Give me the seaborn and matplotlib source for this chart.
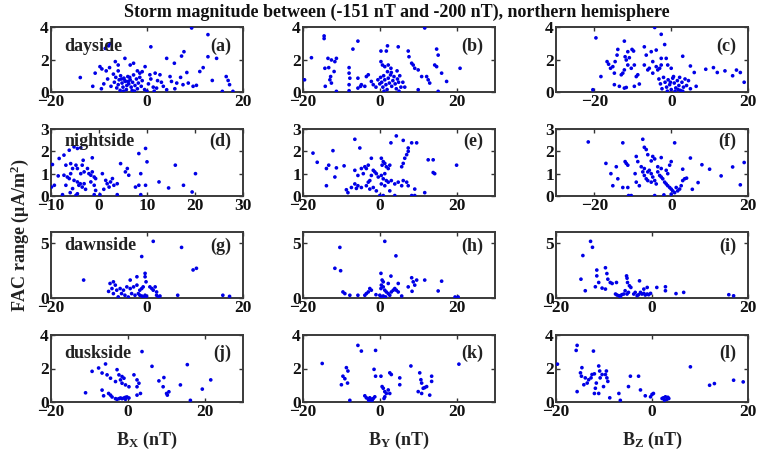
import matplotlib
matplotlib.use("Agg")
import matplotlib.pyplot as plt
import seaborn as sns

# ---------------- data (FAC range vs IMF components) ----------------
a_x = [9.3, -8.7, -8.0, -7.7, 0.8, 12.7, 14.5, 4.1, 5.7, 7.2, 7.7, 11.7, 12.7, 11.0, 16.5, 16.9, 17.2, 13.6, 15.7, 17.9,
       -13.9, -11.3, -10.8, -9.8, -9.4, -4.6, -6.6, -6.0, -3.5, -2.8, -0.4, -1.5, 0.6, 1.7, 2.7, 4.8, 5.1, 6.2, 7.5, 8.6,
       9.6, 10.3, 2.0, 3.4, 4.1, -7.0, -6.5, -6.8, -6.0, -5.8, -5.5, -5.2, -5.0, -4.8, -4.5, -4.3, -4.0, -3.8, -3.5, -3.3,
       -3.0, -2.8, -2.5, -2.2, -2.0, -1.8, -1.5, -1.2, -1.0, -0.5, -4.6, -5.3, -3.9, -4.2, -3.6, -6.3, -5.6, -4.9, -3.1, -2.6,
       -7.5, -8.2, -8.5, -7.8, -1.0, 0.3, 0.8, 1.3, 2.2, 0.0, 1.5, 3.0, 5.8, 7.0, 8.3, -9.0, -9.5, -2.0, -6.0]
a_y = [3.94, 2.68, 2.84, 2.98, 2.78, 3.53, 2.07, 2.07, 1.77, 2.21, 2.48, 1.50, 2.17, 1.26, 0.95, 0.71, 0.45, 0.71, 0.04, 0.04,
       0.89, 0.35, 1.16, 1.56, 1.42, 2.07, 1.87, 1.66, 1.66, 1.77, 1.56, 1.16, 1.06, 1.16, 1.06, 0.95, 0.65, 0.55, 0.45, 0.55,
       0.35, 0.41, 0.24, 0.35, 0.14, 1.10, 0.90, 0.60, 0.45, 0.75, 1.00, 0.55, 0.30, 0.85, 0.65, 0.15, 0.95, 0.50, 0.75, 0.30,
       0.60, 1.05, 0.40, 0.80, 0.20, 0.55, 0.90, 0.35, 0.70, 0.15, 0.70, 0.80, 0.65, 0.40, 0.90, 0.25, 0.10, 0.05, 0.10, 0.05,
       0.35, 0.80, 1.30, 1.50, 1.25, 0.50, 0.80, 0.30, 0.70, 0.05, 0.05, 0.60, 0.20, 0.90, 1.20, 0.50, 0.20, 1.30, 1.30]

b_x = [-14.5, -14.5, -17.8, -19.6, -5.7, -7.0, -13.5, -12.6, -11.3, -11.7, -14.3, -13.3, -11.9, -12.8, -13.0, -12.6, -14.2,
       -11.3, -8.0, -8.0, -7.8, -8.0, -8.0, -5.7, -4.8, -3.9, -3.5, -3.0, -2.2, -1.7, -5.7, -5.0, 0.3, 1.7, 2.0, 4.8, 0.3, 0.7,
       1.3, 2.2, 2.9, 7.4, 7.6, 8.3, 8.7, 9.1, 10.0, 10.9, 12.2, 12.6, 13.0, 14.8, 15.2, 14.3, 14.8, 16.1, 17.4, 10.0, 15.2,
       20.9, 11.7, 0.2, 0.5, 0.8, 1.0, 1.3, 1.6, 1.9, 2.2, 2.5, 2.8, 3.1, 3.4, 3.7, 4.0, 4.3, 4.6, 4.9, 5.2, 5.5, 0.0, 1.1,
       3.0, 4.5, 5.0, 6.0, 6.5, -0.5, -1.0, 2.0]
b_y = [3.45, 3.29, 2.11, 0.75, 3.13, 2.64, 2.07, 1.97, 2.07, 1.87, 1.46, 1.50, 1.26, 0.95, 0.75, 0.55, 0.35, 0.04, 1.50, 1.16,
       0.85, 0.45, 0.08, 0.85, 0.45, 0.35, 0.95, 1.06, 0.65, 0.45, 0.24, 0.35, 2.52, 2.52, 2.84, 2.78, 1.87, 1.66, 1.56, 1.66,
       1.46, 2.52, 2.17, 1.77, 1.66, 1.46, 1.36, 0.95, 0.95, 0.75, 0.55, 2.64, 2.27, 1.66, 1.56, 1.16, 0.65, 0.14, 0.04, 1.46,
       3.94, 0.90, 0.60, 0.30, 1.00, 0.75, 0.45, 0.15, 0.85, 0.55, 1.05, 0.35, 0.70, 0.95, 0.50, 0.20, 0.80, 0.60, 1.00, 0.30,
       0.50, 0.05, 1.20, 1.30, 0.05, 0.60, 0.30, 0.75, 0.30, 1.25]

c_x = [-19.6, -20.4, -18.3, -16.7, -16.3, -15.8, -15.2, -14.8, -14.6, -13.9, -14.1, -12.2, -12.0, -11.7, -11.3, -10.9, -10.2,
       -9.8, -13.0, -12.6, -12.2, -11.3, -10.4, -9.6, -9.1, -8.7, -14.8, -13.5, -12.2, -11.7, -9.6, -8.3, -7.0, -6.5, -5.2,
       -4.8, -3.9, -2.6, -7.0, -6.1, -5.7, -4.8, -3.9, -3.5, -3.0, -2.6, -4.3, -2.6, -1.7, -1.3, -0.9, 0.0, -3.2, -2.8, -2.4,
       -2.0, -1.6, -1.2, -0.8, -0.4, 0.0, 0.4, 0.8, 1.2, 1.6, 2.0, 2.4, 2.8, 3.2, 3.6, -1.0, 1.0, 3.0, 0.6, 2.2, -0.2, 1.8,
       4.0, 3.0, 5.0, 6.0, 9.0, 11.0, 12.0, 14.0, 16.0, 17.0, 18.0, 19.0, 5.0, 4.5, 6.5]
c_y = [3.33, 0.14, 0.95, 1.87, 1.71, 1.46, 1.56, 1.16, 1.87, 2.62, 2.27, 3.13, 2.17, 1.97, 2.48, 2.11, 2.62, 2.52, 1.06, 1.16,
       1.36, 1.66, 1.46, 1.66, 0.95, 1.06, 0.45, 0.35, 0.24, 0.28, 0.35, 0.49, 2.78, 2.27, 2.48, 1.87, 2.58, 2.07, 1.66, 1.36,
       1.46, 1.16, 1.56, 1.36, 1.46, 1.66, 3.97, 3.55, 2.92, 2.07, 1.66, 1.46, 0.80, 0.50, 0.20, 0.90, 0.60, 0.30, 0.75, 0.45,
       0.15, 0.85, 0.55, 0.25, 0.70, 0.40, 0.10, 0.60, 0.30, 0.80, 0.05, 0.05, 0.05, 0.95, 0.90, 0.60, 0.15, 0.40, 2.20, 1.60,
       1.20, 1.40, 1.50, 1.20, 1.30, 1.00, 1.35, 1.20, 0.60, 0.20, 0.70, 0.35]

d_x = [-9.7, -8.3, -7.3, -6.2, -5.2, -4.5, -3.8, -1.4, -6.9, -5.9, -5.5, -4.8, -4.5, -3.8, -3.5, -3.1, -7.3, -6.6, -6.2, -5.9,
       -5.2, -4.5, -4.2, -3.9, -3.5, -3.1, -6.9, -5.5, -4.5, -2.4, -2.1, -1.7, -1.4, -1.0, -0.7, -1.7, -1.0, -0.7, 0.7, 1.4,
       1.7, 2.1, 2.4, 2.8, 3.1, 3.8, 4.5, 5.9, 6.2, 5.5, 8.3, 9.7, 10.0, 8.7, 7.6, 8.3, 9.7, 12.5, 14.5, 15.9, 17.6, 20.1,
       19.4, -7.6, -4.8, -1.0, 0.2, 3.8, 8.7, -9.3, -9.9, -8.5, -2.8, -6.0, 1.0, -3.3]
d_y = [1.41, 1.68, 1.83, 2.05, 2.20, 2.13, 2.16, 1.71, 1.38, 1.45, 1.23, 1.38, 1.23, 1.00, 1.38, 1.08, 0.93, 0.85, 0.78, 1.00,
       0.70, 0.63, 0.48, 0.55, 0.40, 0.55, 0.48, 0.33, 0.10, 1.23, 1.00, 0.93, 1.08, 0.85, 0.78, 0.63, 0.48, 0.25, 1.00, 0.70,
       0.55, 0.40, 0.63, 0.78, 0.48, 0.55, 1.45, 1.23, 0.93, 1.08, 1.90, 2.13, 1.53, 1.00, 0.40, 0.48, 0.48, 0.63, 0.36, 1.38,
       0.48, 1.00, 0.18, 0.06, 0.03, 0.06, 0.06, 0.06, 0.06, 0.48, 0.40, 0.90, 0.30, 0.15, 0.30, 1.60]

e_x = [-17.4, -16.3, -13.9, -13.3, -11.3, -11.7, -13.9, -12.2, -9.3, -6.5, -5.2, -6.5, -5.7, -4.8, -4.3, -3.9, -3.5, -3.0,
       -8.7, -8.3, -7.4, -6.5, -6.1, -5.7, -4.8, -3.5, -3.0, -2.6, -1.7, -2.6, -2.2, -2.2, -1.7, -1.3, -0.9, -0.4, 0.4, 1.3,
       0.9, 1.7, 0.4, 1.3, 2.2, 3.0, 3.9, 4.8, 5.7, 6.1, 7.0, 7.4, 0.4, 0.9, 1.3, 0.6, 1.7, 2.2, 2.6, 2.9, 4.3, 6.1, 7.4,
       8.3, 9.6, 5.7, 6.1, 6.5, 7.0, 7.4, 0.0, 0.9, 3.9, 8.3, 9.1, 11.7, 9.1, 12.6, 13.9, 13.9, 14.3, 20.0, 2.6, -0.9]
e_y = [1.92, 1.51, 1.23, 1.38, 1.26, 0.85, 0.46, 2.03, 1.35, 2.54, 2.15, 1.15, 0.92, 1.23, 1.00, 1.31, 1.23, 1.38, 0.28, 0.15,
       0.38, 0.54, 0.34, 0.46, 0.38, 0.46, 0.62, 0.31, 0.38, 0.69, 0.92, 1.69, 1.15, 1.08, 1.00, 0.85, 0.92, 1.00, 0.77, 0.69,
       0.54, 0.46, 0.62, 0.69, 0.54, 0.62, 0.46, 0.69, 0.62, 0.46, 1.69, 1.54, 1.46, 1.38, 1.31, 1.23, 1.38, 2.38, 2.69, 2.49,
       2.15, 2.38, 2.38, 1.31, 1.46, 1.69, 1.85, 2.00, 0.02, 0.02, 0.02, 0.02, 0.02, 0.15, 0.31, 1.62, 1.62, 1.05, 1.00, 1.38,
       0.23, 0.23]

f_x = [-21.6, -17.0, -15.7, -15.2, -14.3, -13.9, -12.6, -12.0, -11.7, -11.3, -12.6, -11.3, -10.4, -11.1, -9.1, -9.4, -9.1,
       -8.3, -7.4, -7.0, -6.5, -6.1, -5.2, -4.8, -4.3, -3.5, -2.6, -2.6, -8.7, -7.8, -7.4, -7.0, -6.5, -6.1, -5.2, -4.8, -4.3,
       -3.9, -7.0, -6.1, -5.7, -5.2, -4.3, -1.9, 0.0, -3.5, -3.0, -2.6, -2.2, -1.7, -1.3, -0.9, -0.4, 0.0, 0.4, 0.9, 1.3, 1.7,
       2.2, 2.6, 3.0, 3.5, 0.9, 0.0, -0.4, -0.9, -1.3, 3.0, 4.0, 5.0, 7.0, 8.0, 10.0, 13.0, 16.0, 18.0, 19.0, 5.5]
f_y = [2.42, 1.46, 1.00, 0.46, 1.31, 0.77, 2.38, 1.54, 1.46, 1.38, 0.38, 0.38, 0.02, 0.02, 1.77, 1.00, 0.62, 0.46, 2.54, 2.18,
       2.08, 1.85, 1.57, 1.77, 1.66, 1.31, 1.72, 1.23, 1.54, 1.31, 1.08, 0.92, 0.77, 0.69, 0.62, 0.85, 0.69, 0.54, 1.23, 1.08,
       1.15, 1.00, 0.02, 0.05, 0.08, 1.08, 0.92, 0.85, 0.77, 0.62, 0.54, 0.46, 0.38, 0.31, 0.23, 0.15, 0.38, 0.23, 0.31, 0.46,
       0.69, 0.77, 2.38, 1.54, 1.38, 1.00, 1.15, 1.20, 0.80, 1.70, 0.60, 1.40, 1.20, 0.90, 1.30, 0.50, 1.50, 0.30]

g_x = [1.3, 7.2, -1.1, 9.6, 10.3, -13.2, -7.7, -7.0, -6.6, -7.3, -6.3, -7.0, -3.5, -2.1, -0.4, -0.4, -0.2, -5.6, -4.9, -4.2,
       -3.5, -2.8, -2.1, -1.5, -1.1, -0.8, -5.3, -4.6, -3.9, -3.2, -2.5, -1.8, -1.5, -1.1, -0.8, -0.4, -0.1, 0.6, 1.0, 1.3,
       1.7, 2.0, 2.0, 2.4, 2.7, 6.4, 15.8, 17.2, -6.0, -8.0]
g_y = [5.15, 4.60, 3.77, 2.55, 2.70, 1.63, 1.32, 1.47, 1.17, 0.86, 0.71, 0.40, 1.63, 1.93, 2.24, 1.93, 1.47, 0.86, 0.71, 1.01,
       0.86, 1.01, 1.17, 0.71, 0.86, 1.01, 0.40, 0.25, 0.09, 0.40, 0.25, 0.40, 0.25, 0.18, 0.09, 0.25, 0.15, 1.01, 0.86, 0.71,
       1.01, 0.55, 0.25, 0.09, 0.18, 0.25, 0.25, 0.15, 0.10, 0.60]

h_x = [-10.4, 1.3, 4.2, -11.7, -10.2, -9.6, -9.1, -7.8, -5.7, -3.9, -3.5, -3.0, -2.6, -2.2, 0.3, 0.6, 0.9, 0.4, 0.9, 0.3,
       1.3, 1.7, 2.2, 2.6, 3.0, 3.5, 3.9, 4.3, 4.8, 2.9, 2.2, 4.8, 8.3, 8.7, 9.1, 9.6, 7.4, 8.4, 11.7, 15.2, 16.1, 0.0, 0.4,
       0.9, 5.7, 19.6, 20.4, 20.0, -1.0, 1.5]
h_y = [4.60, 5.15, 3.83, 2.70, 2.48, 0.55, 0.40, 0.25, 0.25, 0.25, 0.40, 0.55, 0.86, 0.71, 2.24, 1.63, 1.47, 1.17, 1.01, 0.86,
       0.71, 0.55, 0.40, 0.25, 0.55, 0.71, 0.86, 0.71, 0.55, 1.99, 1.32, 1.32, 1.84, 1.47, 1.17, 1.63, 1.01, 0.61, 1.63, 0.64,
       1.53, 0.25, 0.09, 0.18, 0.18, 0.09, 0.09, 0.02, 0.30, 0.10]

i_x = [-12.8, -12.4, -14.4, -14.8, -13.9, -11.5, -11.1, -11.8, -11.5, -9.7, -9.4, -9.2, -8.7, -10.4, -9.7, -8.3, -7.4, -5.3,
       -5.2, -5.1, -4.7, -4.4, -5.2, -4.9, -5.6, -7.6, -7.3, -6.9, -6.6, -6.3, -5.9, -3.8, -3.5, -3.1, -2.8, -2.4, -2.1, -1.7,
       -1.4, -1.0, -0.7, -0.3, -2.6, -1.7, -1.0, 1.0, 2.8, 2.8, 6.6, 16.0, 17.0, 5.0]
i_y = [5.15, 4.61, 3.86, 1.71, 0.66, 2.54, 1.41, 1.02, 2.01, 2.75, 2.22, 1.71, 1.41, 0.90, 0.81, 1.32, 1.41, 2.01, 1.80, 1.41,
       1.11, 0.96, 0.36, 0.51, 0.66, 0.36, 0.27, 0.21, 0.12, 0.30, 0.36, 0.36, 0.51, 0.21, 0.30, 0.51, 0.36, 0.42, 0.27, 0.36,
       0.30, 0.42, 1.56, 0.81, 0.96, 0.96, 1.02, 0.66, 0.51, 0.30, 0.20, 0.40]

j_x = [3.7, 6.3, 15.5, 21.6, 19.4, 13.7, 8.1, 9.4, 9.2, 10.3, 10.7, 10.1, 16.3, -11.0, -9.3, -7.6, -6.7, -5.8, -5.4, -4.5,
       -6.7, -6.3, -5.0, -4.5, -4.1, -2.8, -2.3, -1.9, -1.5, -1.0, -3.2, -1.5, -0.6, 0.3, 1.6, 2.4, 2.9, 2.4, 3.3, 2.4, -3.2,
       -2.8, -2.3, -1.9, -1.5, -1.0, -0.6, -0.2, 0.3, -0.6]
j_y = [3.01, 2.13, 2.23, 1.32, 0.77, 1.02, 1.26, 1.46, 0.91, 0.41, 0.61, 0.51, 0.10, 0.55, 1.83, 2.03, 1.73, 2.27, 1.62, 1.42,
       0.71, 0.37, 0.51, 0.41, 0.30, 1.93, 1.62, 1.32, 1.52, 1.42, 1.22, 1.12, 1.02, 0.91, 1.62, 1.32, 1.12, 0.91, 0.51, 0.41,
       0.20, 0.16, 0.20, 0.24, 0.20, 0.24, 0.28, 0.30, 0.24, 0.16]

k_x = [-15.0, -5.7, -4.8, -1.1, -8.7, -8.3, -9.6, -9.1, -10.0, -8.4, -7.8, -3.9, -3.5, -3.0, -2.6, -2.2, -1.7, -1.3, -1.5,
       -1.1, 0.3, 0.6, 0.9, 1.3, 1.7, 2.2, 2.6, 3.0, 2.6, 1.3, 1.1, 5.2, 5.2, 8.1, 10.4, 10.7, 10.9, 11.3, 10.0, 10.9, 11.7,
       12.2, 13.0, 13.5, 13.5, 20.6, -2.8, -2.0]
k_y = [2.30, 3.38, 3.04, 3.08, 2.05, 1.85, 1.54, 1.39, 1.03, 1.13, 0.10, 0.37, 0.25, 0.16, 0.25, 0.16, 0.21, 0.31, 1.95, 1.54,
       1.54, 0.92, 0.82, 0.62, 0.51, 0.72, 0.51, 1.64, 1.74, 0.31, 0.21, 1.44, 1.03, 2.15, 1.74, 1.33, 1.13, 0.82, 0.62, 0.51,
       0.86, 0.92, 0.41, 1.54, 1.23, 2.26, 0.05, 0.10]

l_x = [-19.7, -15.6, -15.8, -12.2, -15.6, -14.6, -14.9, -14.7, -13.9, -13.5, -14.2, -13.2, -12.7, -12.5, -12.0, -11.8, -11.6,
       -11.1, -10.9, -10.8, -10.4, -10.1, -9.7, -9.5, -9.4, -9.2, -12.0, -11.1, -8.8, -6.9, -6.6, -4.9, -4.5, -2.8, -2.4, -1.4,
       -0.3, 0.0, 0.3, 2.1, 2.4, 2.8, 3.1, 3.5, 2.6, 3.3, 8.0, 12.0, 13.0, 17.0, 19.0]
l_y = [2.26, 3.38, 3.08, 3.04, 0.62, 2.05, 1.74, 1.54, 1.44, 1.13, 1.03, 1.33, 1.44, 1.64, 1.68, 0.82, 1.13, 2.15, 1.85, 1.44,
       1.64, 0.92, 1.64, 1.85, 1.44, 1.23, 0.51, 0.51, 0.25, 0.51, 0.10, 0.92, 1.54, 1.54, 0.72, 0.37, 0.31, 0.45, 0.51, 0.21,
       0.25, 0.31, 0.16, 0.21, 0.10, 0.28, 2.10, 1.00, 1.10, 1.30, 1.20]

panel_letters = ["(a)", "(b)", "(c)", "(d)", "(e)", "(f)", "(g)", "(h)", "(i)", "(j)", "(k)", "(l)"]
side_names = ["dayside", "nightside", "dawnside", "duskside"]
x_labels = [r"B$_{\rm X}$ (nT)", r"B$_{\rm Y}$ (nT)", r"B$_{\rm Z}$ (nT)"]
title = "Storm magnitude between (-151 nT and -200 nT), northern hemisphere"
y_label = r"FAC range ($\mu$A/m$^{\rm 2}$)"

xs = [a_x, b_x, c_x, d_x, e_x, f_x, g_x, h_x, i_x, j_x, k_x, l_x]
ys = [a_y, b_y, c_y, d_y, e_y, f_y, g_y, h_y, i_y, j_y, k_y, l_y]

# axis settings per panel
xlims = [(-20, 20), (-20, 30), (-30, 20),
         (-10, 30), (-20, 30), (-30, 20),
         (-20, 20), (-20, 30), (-20, 20),
         (-20, 30), (-20, 30), (-20, 20)]
xtick_sets = [[-20, 0, 20], [-20, 0, 20], [-20, 0, 20],
              [-10, 0, 10, 20, 30], [-20, 0, 20], [-20, 0, 20],
              [-20, 0, 20], [-20, 0, 20], [-20, 0, 20],
              [-20, 0, 20], [-20, 0, 20], [-20, 0, 20]]
ylims = [(0, 4), (0, 3), (0, 6), (0, 4)]
ytick_sets = [[0, 2, 4], [0, 1, 2, 3], [0, 5], [0, 2, 4]]

# ---------------- style ----------------
sns.set_style("white")
plt.rcParams["font.family"] = ["Liberation Serif", "DejaVu Serif"]
plt.rcParams["font.weight"] = "bold"
plt.rcParams["mathtext.fontset"] = "custom"
plt.rcParams["mathtext.rm"] = "Liberation Serif:bold"
plt.rcParams["mathtext.it"] = "Liberation Serif:bold"
plt.rcParams["mathtext.bf"] = "Liberation Serif:bold"

W, H = 757, 457
fig = plt.figure(figsize=(W / 100, H / 100), dpi=100)

col_left = [51, 303, 556]
col_w = 192
rows = [(27, 92), (129, 196), (232, 298), (335, 402)]
label_y = [0.70, 0.81, 0.79, 0.73]

for idx in range(12):
    r, c = divmod(idx, 3)
    top, bot = rows[r]
    ax = fig.add_axes([col_left[c] / W, 1 - bot / H, col_w / W, (bot - top) / H])
    sns.scatterplot(x=xs[idx], y=ys[idx], ax=ax, color="#0000e6", s=7,
                    linewidth=0, edgecolor="none", legend=False, zorder=3)
    ax.set_xlim(*xlims[idx])
    ax.set_ylim(*ylims[r])
    ax.set_xticks(xtick_sets[idx])
    ax.set_yticks(ytick_sets[r])
    ax.tick_params(direction="in", bottom=True, left=True, top=True, right=True,
                   length=3, width=1, labelsize=12.5, pad=1.5, colors="#333333")
    for lab in ax.get_xticklabels() + ax.get_yticklabels():
        lab.set_fontweight("bold")
        lab.set_color("#111111")
    for sp in ax.spines.values():
        sp.set_visible(True)
        sp.set_linewidth(1.4)
        sp.set_color("#3a3a3a")
    ax.set_xlabel("")
    ax.set_ylabel("")
    ax.text(0.94, label_y[r], panel_letters[idx], transform=ax.transAxes,
            ha="right", va="center", fontsize=13, fontweight="bold", color="#222222")
    if c == 0:
        ax.text(0.07, label_y[r], side_names[r], transform=ax.transAxes,
                ha="left", va="center", fontsize=13, fontweight="bold", color="#222222")
    if r == 3:
        ax.set_xlabel(x_labels[c], fontsize=13, fontweight="bold", labelpad=7, color="#222222")

fig.text(397 / W, 1 - 12 / H, title, ha="center", va="center", fontsize=13, fontweight="bold",
         color="#111111")
fig.text(20 / W, 1 - 235 / H, y_label, ha="center", va="center", rotation=90,
         fontsize=13, fontweight="bold", color="#222222")

fig.savefig("out.png", dpi=100, facecolor="white")
